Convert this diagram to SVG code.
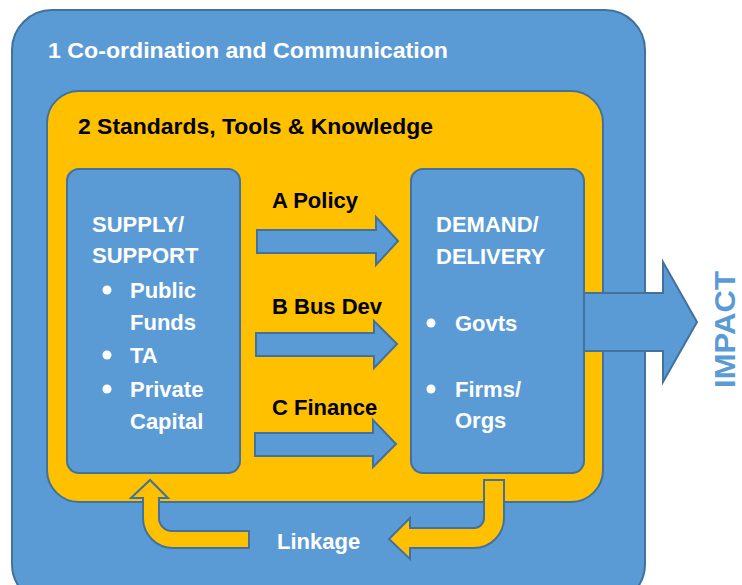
<svg xmlns="http://www.w3.org/2000/svg" width="742" height="585" viewBox="0 0 742 585">
<style>
.blue{fill:#5B9BD5;stroke:#41719C;stroke-width:2}
.yel{fill:#FFC000;stroke:#41719C;stroke-width:2}
.w{fill:#FFFFFF;font-family:"Liberation Sans",Arial,sans-serif;font-weight:bold;font-size:22px}
.k{fill:#000000;font-family:"Liberation Sans",Arial,sans-serif;font-weight:bold;font-size:22px}
.dot{fill:#FFFFFF}
</style>
<rect x="0" y="0" width="742" height="585" fill="#FFFFFF"/>
<g id="coordination">
<rect class="blue" x="12" y="10" width="633" height="594" rx="40"/>
<text class="w" x="48" y="58" font-size="23" textLength="400" lengthAdjust="spacingAndGlyphs">1 Co-ordination and Communication</text>
</g>
<g id="standards">
<rect class="yel" x="47" y="91" width="556" height="411" rx="32"/>
<text class="k" x="78" y="134" font-size="23" textLength="355" lengthAdjust="spacingAndGlyphs">2 Standards, Tools &amp; Knowledge</text>
</g>
<g id="supply">
<rect class="blue" x="67" y="169" width="173" height="304" rx="12"/>
<text class="w" x="92" y="232">SUPPLY/</text>
<text class="w" x="92" y="263">SUPPORT</text>
<circle class="dot" cx="107" cy="290" r="4.5"/>
<text class="w" x="130" y="298">Public</text>
<text class="w" x="130" y="330">Funds</text>
<circle class="dot" cx="107" cy="355" r="4.5"/>
<text class="w" x="130" y="363">TA</text>
<circle class="dot" cx="107" cy="389" r="4.5"/>
<text class="w" x="130" y="397">Private</text>
<text class="w" x="130" y="429">Capital</text>
</g>
<g id="demand">
<rect class="blue" x="411" y="169" width="173" height="304" rx="12"/>
<text class="w" x="436" y="232">DEMAND/</text>
<text class="w" x="436" y="264">DELIVERY</text>
<circle class="dot" cx="431" cy="323" r="4.5"/>
<text class="w" x="455" y="331">Govts</text>
<circle class="dot" cx="431" cy="389" r="4.5"/>
<text class="w" x="455" y="397">Firms/</text>
<text class="w" x="455" y="428">Orgs</text>
</g>
<g id="connectors">
<polygon class="blue" points="257,230 376,230 376,217 398,241 376,265 376,253 257,253"/>
<text class="k" x="272" y="208">A Policy</text>
<polygon class="blue" points="256,333 374,333 374,321 397,344 374,368 374,356 256,356"/>
<text class="k" x="272" y="314">B Bus Dev</text>
<polygon class="blue" points="255,433 373,433 373,420 396,444 373,467 373,456 255,456"/>
<text class="k" x="272" y="415">C Finance</text>
<polygon class="blue" points="584,293 663,293 663,262 697,322 663,382 663,351 584,351"/>
<path class="yel" d="M143,498 L143,518 A30,30 0 0 0 173,548 L249,548 L249,531 L172,531 A13,13 0 0 1 159,518 L159,498 L168,498 L150,480 L131,498 Z"/>
<path class="yel" d="M484,480 L504,480 L504,518 A30,30 0 0 1 474,548 L410,548 L410,559 L389,539 L410,518 L410,528 L474,528 A10,10 0 0 0 484,518 Z"/>
<text class="w" x="277" y="549">Linkage</text>
</g>
<g id="impact">
<text transform="translate(735,388) rotate(-90)" x="0" y="0" fill="#5B9BD5" font-family="Liberation Sans,Arial,sans-serif" font-weight="bold" font-size="30" textLength="117" lengthAdjust="spacingAndGlyphs">IMPACT</text>
</g>
</svg>
